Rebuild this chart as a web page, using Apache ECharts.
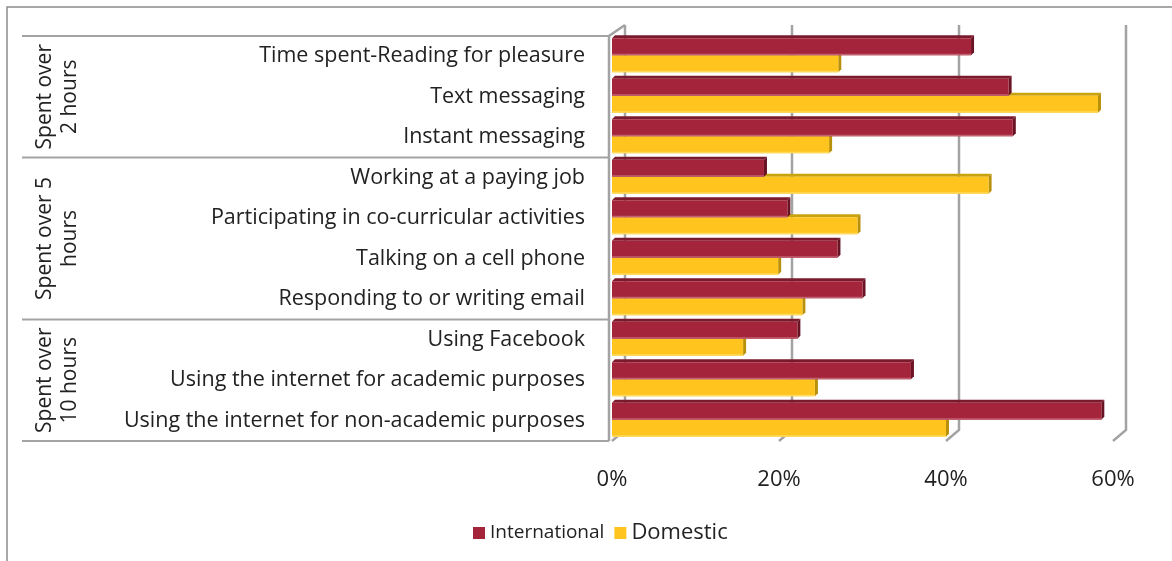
<!DOCTYPE html>
<html>
<head>
<meta charset="utf-8">
<script src="https://cdn.jsdelivr.net/npm/echarts@6/dist/echarts.min.js"></script>
<style>
html,body{margin:0;padding:0;background:#fff;}
#chart{width:1172px;height:561px;}
</style>
</head>
<body>
<div id="chart"></div>
<script>
const categories = [
  'Time spent-Reading for pleasure',
  'Text messaging',
  'Instant messaging',
  'Working at a paying job',
  'Participating in co-curricular activities',
  'Talking on a cell phone',
  'Responding to or writing email',
  'Using Facebook',
  'Using the internet for academic purposes',
  'Using the internet for non-academic purposes'
];
const international = [43, 47.5, 48, 18.2, 21, 27, 30, 22.2, 35.8, 58.6];
const domestic = [27.1, 58.2, 26, 45.1, 29.4, 19.9, 22.8, 15.7, 24.3, 40];
const xTicks = [0, 20, 40, 60];
const groupNames = ['Spent over\n2 hours', 'Spent over 5\nhours', 'Spent over\n10 hours'];
const groupSizes = [3, 4, 3];

const GRID = {left: 612, right: 59, top: 36, bottom: 120};
const DEPTH = {dx: 13, dy: -11};
const BAR_H = 17, BAR_D = 3;
const FONT = '"Open Sans", "Noto Sans", sans-serif';

const chart = echarts.init(document.getElementById('chart'));

function bar3d(colors, isTop) {
  return function (params, api) {
    const v = api.value(0), i = api.value(1);
    const p0 = api.coord([0, i]);
    const p1 = api.coord([v, i]);
    const y0 = isTop ? p0[1] - BAR_H - 1 : p0[1] - 1;
    const y1 = y0 + BAR_H;
    const x0 = p0[0], x1 = p1[0];
    return {
      type: 'group',
      children: [
        {type: 'polygon', shape: {points: [[x0, y0], [x0 + BAR_D, y0 - BAR_D], [x1 + BAR_D, y0 - BAR_D], [x1, y0]]}, style: {fill: colors.top}},
        {type: 'polygon', shape: {points: [[x1, y0], [x1 + BAR_D, y0 - BAR_D], [x1 + BAR_D, y1 - BAR_D], [x1, y1]]}, style: {fill: colors.side}},
        {type: 'rect', shape: {x: x0, y: y0, width: x1 - x0, height: BAR_H}, style: {fill: colors.front}},
        {type: 'rect', shape: {x: x0, y: y1 - 1.5, width: x1 - x0, height: 1.5}, style: {fill: colors.edge}}
      ]
    };
  };
}

function frameItem(params, api) {
  const t = api.value(0);
  const cs = params.coordSys;
  const x = api.coord([t, 0])[0];
  const top = cs.y, bottom = cs.y + cs.height;
  const ls = {stroke: '#a3a3a3', lineWidth: 2.5};
  const children = [
    {type: 'polyline', shape: {points: [[x + DEPTH.dx, top + DEPTH.dy], [x + DEPTH.dx, bottom + DEPTH.dy], [x, bottom]]}, style: Object.assign({fill: null}, ls)}
  ];
  if (t === 0) {
    children.push({type: 'polyline', shape: {points: [[x - 3, bottom], [x - 3, top], [x + DEPTH.dx, top + DEPTH.dy]]}, style: Object.assign({fill: null}, ls)});
  }
  return {type: 'group', children: children};
}

const graphics = [
  {type: 'rect', shape: {x: 7, y: 7, width: 1300, height: 700}, style: {fill: null, stroke: '#8c8c8c', lineWidth: 1.5}, silent: true}
];
const rowH = (561 - GRID.top - GRID.bottom) / categories.length;
let acc = 0;
const lineYs = [GRID.top];
groupSizes.forEach((n, gi) => {
  const y0 = GRID.top + acc * rowH;
  acc += n;
  const y1 = GRID.top + acc * rowH;
  lineYs.push(y1);
  graphics.push({
    type: 'text', x: 58, y: (y0 + y1) / 2, rotation: Math.PI / 2,
    style: {text: groupNames[gi], font: '21px ' + FONT, fill: '#222', align: 'center', verticalAlign: 'middle', lineHeight: 25}
  });
});
lineYs.forEach(y => {
  graphics.push({type: 'line', shape: {x1: 22, y1: y, x2: GRID.left - 3, y2: y}, style: {stroke: '#a3a3a3', lineWidth: 2}});
});

chart.setOption({
  backgroundColor: '#fff',
  animation: false,
  grid: GRID,
  legend: {
    data: ['International', 'Domestic'],
    left: 468, top: 517,
    icon: 'rect', itemWidth: 12, itemHeight: 12, itemGap: 10,
    formatter: n => n === 'Domestic' ? '{b|Domestic}' : '{a|International}',
    textStyle: {
      rich: {
        a: {fontSize: 19, fontFamily: FONT, color: '#222'},
        b: {fontSize: 22, fontFamily: FONT, color: '#222'}
      }
    }
  },
  xAxis: {
    type: 'value', min: 0, max: 60, interval: 20,
    axisLine: {show: false}, axisTick: {show: false}, splitLine: {show: false},
    axisLabel: {formatter: '{value}%', fontSize: 22, fontFamily: FONT, color: '#222', margin: 28}
  },
  yAxis: {
    type: 'category', data: categories, inverse: true,
    axisLine: {show: false}, axisTick: {show: false},
    axisLabel: {fontSize: 21.5, fontFamily: FONT, color: '#222', margin: 27, padding: [4, 0, 0, 0]}
  },
  graphic: graphics,
  series: [
    {
      name: 'frame', type: 'custom', z: 1, silent: true,
      data: xTicks.map(t => [t, 0]), encode: {x: 0, y: 1},
      renderItem: frameItem
    },
    {
      name: 'Domestic', type: 'custom', z: 2,
      itemStyle: {color: '#FFC51E'},
      data: domestic.map((v, i) => [v, i]), encode: {x: 0, y: 1},
      renderItem: bar3d({front: '#FFC51E', top: '#C9A20E', side: '#B8900A', edge: '#FFD95E'}, false)
    },
    {
      name: 'International', type: 'custom', z: 3,
      itemStyle: {color: '#A4243B'},
      data: international.map((v, i) => [v, i]), encode: {x: 0, y: 1},
      renderItem: bar3d({front: '#A4243B', top: '#7A1A2C', side: '#6A1324', edge: '#C06070'}, true)
    }
  ]
});
</script>
</body>
</html>
